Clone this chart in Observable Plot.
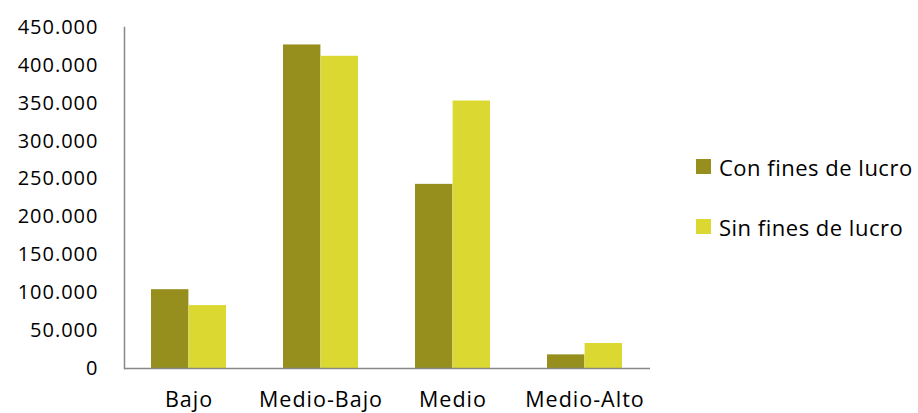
<!DOCTYPE html>
<html>
<head>
<meta charset="utf-8">
<script src="https://cdn.jsdelivr.net/npm/d3@7"></script>
<script src="https://cdn.jsdelivr.net/npm/@observablehq/plot@0.6"></script>
<style>
  html, body { margin: 0; padding: 0; background: #fff; }
  #wrap { position: relative; width: 918px; height: 413px; font-family: "Open Sans", sans-serif; }
  #legend { position: absolute; left: 696px; top: 150px; font-size: 22px; color: #000; letter-spacing: 0.5px; }
  .item { display: flex; align-items: center; height: 33px; margin-bottom: 27px; white-space: nowrap; }
  .sw { width: 15px; height: 15px; margin-right: 8px; flex: none; }
  #wrap svg text { letter-spacing: 1px; }
</style>
</head>
<body>
<div id="wrap"></div>
<script>
const categories = ["Bajo", "Medio-Bajo", "Medio", "Medio-Alto"];
const seriesNames = ["Con fines de lucro", "Sin fines de lucro"];
const conValues = [104000, 427000, 243000, 18000];
const sinValues = [83000, 412000, 353000, 33000];
const yTicks = [0, 50000, 100000, 150000, 200000, 250000, 300000, 350000, 400000, 450000];
const colors = ["#968f1e", "#dbd931"];

const fmt = d3.formatLocale({decimal: ",", thousands: ".", grouping: [3], currency: ["", ""]}).format(",");

const con = categories.map((c, i) => ({category: c, value: conValues[i]}));
const sin = categories.map((c, i) => ({category: c, value: sinValues[i]}));

const chart = Plot.plot({
  width: 918,
  height: 413,
  marginLeft: 124,
  marginRight: 268,
  marginTop: 27,
  marginBottom: 45,
  style: {fontFamily: "Open Sans, sans-serif", background: "transparent", overflow: "visible"},
  x: {domain: categories, paddingInner: 0.43, paddingOuter: 0.2},
  y: {domain: [0, 450000]},
  marks: [
    Plot.barY(con, {x: "category", y: "value", fill: colors[0], insetRight: 37.6, insetLeft: 0}),
    Plot.barY(sin, {x: "category", y: "value", fill: colors[1], insetLeft: 37.6, insetRight: 0}),
    Plot.axisY({ticks: yTicks, tickFormat: fmt, tickSize: 0, tickPadding: 26, fontSize: 20, color: "#000", label: null}),
    Plot.axisX({tickSize: 0, tickPadding: 23, fontSize: 21.5, color: "#000", label: null}),
    Plot.ruleY([0], {stroke: "#888", strokeWidth: 1.5}),
    Plot.frame({anchor: "left", stroke: "#888", strokeWidth: 1.5})
  ]
});
const wrap = document.getElementById("wrap");
wrap.appendChild(chart);

const legend = document.createElement("div");
legend.id = "legend";
seriesNames.forEach((name, i) => {
  const item = document.createElement("div");
  item.className = "item";
  const sw = document.createElement("span");
  sw.className = "sw";
  sw.style.background = colors[i];
  const t = document.createElement("span");
  t.textContent = name;
  item.appendChild(sw);
  item.appendChild(t);
  legend.appendChild(item);
});
wrap.appendChild(legend);
</script>
</body>
</html>
